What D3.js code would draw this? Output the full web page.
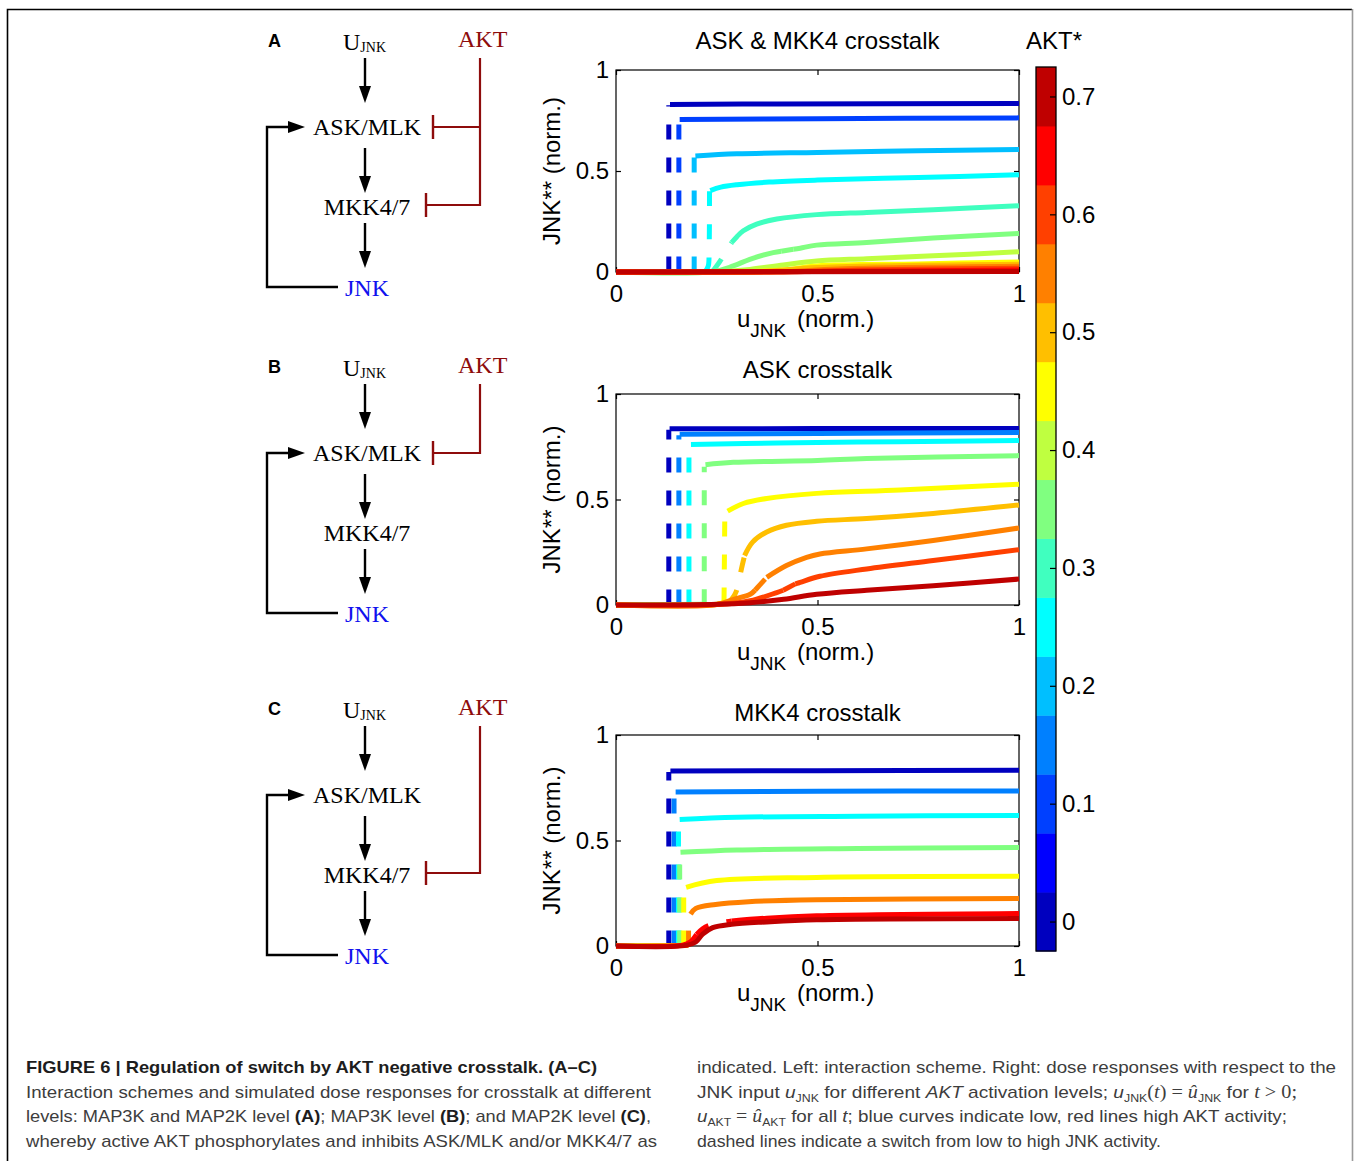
<!DOCTYPE html>
<html>
<head>
<meta charset="utf-8">
<script src="https://cdn.jsdelivr.net/npm/d3@7"></script>
<style>
body{margin:0;background:#fff;}
</style>
</head>
<body>
<div id="plot"></div>
<script>

// colorbar (jet, 15 levels) and its ticks
var aktColors = ['#0000BF','#0000FF','#0040FF','#0080FF','#00BFFF','#00FFFF','#40FFBF','#80FF80',
	'#BFFF40','#FFFF00','#FFBF00','#FF8000','#FF4000','#FF0000','#BF0000'];
var aktTicks = [0,0.1,0.2,0.3,0.4,0.5,0.6,0.7];
var aktDomain = [-0.025,0.725];
var axisTicks = [0,0.5,1];
var panelTitles = ['ASK & MKK4 crosstalk','ASK crosstalk','MKK4 crosstalk'];
var panelLetters = ['A','B','C'];

// dose responses: lo = solid low branch, sw = dashed switch, hi = solid high branch
var curvesA = [
	{akt:0, lo:[[0,0],[0.131,0.002]], sw:[[0.131,0.002],[0.131,0.826]], hi:[[0.134,0.829],[0.4,0.832],[1,0.834]]},
	{akt:0.1, lo:[[0,0],[0.156,0.002]], sw:[[0.156,0.002],[0.156,0.752]], hi:[[0.158,0.755],[0.5,0.759],[1,0.763]]},
	{akt:0.2, lo:[[0,0],[0.194,0.002]], sw:[[0.194,0.002],[0.194,0.57]], hi:[[0.197,0.574],[0.3,0.585],[0.5,0.592],[0.75,0.6],[1,0.607]]},
	{akt:0.25, lo:[[0,0],[0.222,0.003]], sw:[[0.222,0.003],[0.229,0.03],[0.231,0.1],[0.232,0.4]], hi:[[0.234,0.403],[0.26,0.42],[0.3,0.432],[0.38,0.445],[0.5,0.455],[0.75,0.468],[1,0.481]]},
	{akt:0.3, lo:[[0,0],[0.2,0.001],[0.24,0.004]], sw:[[0.24,0.004],[0.257,0.05],[0.272,0.1],[0.287,0.146]], hi:[[0.287,0.146],[0.3,0.175],[0.316,0.204],[0.349,0.237],[0.399,0.262],[0.498,0.284],[0.622,0.295],[0.787,0.308],[1,0.328]]},
	{akt:0.35, lo:[[0,0],[0.24,0.002],[0.291,0.03],[0.332,0.063],[0.39,0.096],[0.41,0.103]], sw:[[0.41,0.103],[0.44,0.113]], hi:[[0.44,0.113],[0.457,0.118],[0.498,0.133],[0.622,0.146],[0.787,0.168],[1,0.191]]},
	{akt:0.4, lo:[[0,0],[0.25,0.001],[0.332,0.013],[0.415,0.035],[0.498,0.055],[0.622,0.066],[0.787,0.08],[1,0.1]]},
	{akt:0.45, lo:[[0,0],[0.3,0.001],[0.415,0.01],[0.498,0.03],[0.75,0.04],[1,0.05]]},
	{akt:0.5, lo:[[0,0],[0.35,0.001],[0.5,0.022],[1,0.038]]},
	{akt:0.55, lo:[[0,0],[0.4,0.001],[0.55,0.015],[1,0.028]]},
	{akt:0.6, lo:[[0,0],[0.45,0.001],[0.6,0.01],[1,0.019]]},
	{akt:0.65, lo:[[0,0],[0.5,0.002],[1,0.01]]},
	{akt:0.7, lo:[[0,0],[1,0.002]]}
];

var curvesB = [
	{akt:0, lo:[[0,0],[0.131,0.002]], sw:[[0.131,0.002],[0.131,0.83]], hi:[[0.133,0.835],[0.5,0.836],[1,0.837]]},
	{akt:0.15, lo:[[0,0],[0.156,0.002]], sw:[[0.156,0.002],[0.156,0.805]], hi:[[0.158,0.809],[0.5,0.813],[1,0.817]]},
	{akt:0.25, lo:[[0,0],[0.181,0.002]], sw:[[0.181,0.002],[0.181,0.755]], hi:[[0.186,0.761],[0.4,0.768],[0.7,0.774],[1,0.78]]},
	{akt:0.35, lo:[[0,0],[0.219,0.003]], sw:[[0.219,0.003],[0.219,0.655]], hi:[[0.222,0.665],[0.291,0.676],[0.5,0.685],[0.622,0.694],[1,0.708]]},
	{akt:0.45, lo:[[0,0],[0.25,0.004],[0.268,0.012]], sw:[[0.268,0.012],[0.27,0.43]], hi:[[0.277,0.445],[0.316,0.481],[0.374,0.505],[0.498,0.529],[0.705,0.545],[1,0.572]]},
	{akt:0.5, lo:[[0,0],[0.25,0.003],[0.28,0.012]], sw:[[0.28,0.012],[0.295,0.05],[0.304,0.1],[0.31,0.16],[0.319,0.234]], hi:[[0.319,0.234],[0.339,0.298],[0.374,0.346],[0.423,0.378],[0.498,0.397],[0.622,0.41],[0.787,0.434],[1,0.474]]},
	{akt:0.55, lo:[[0,0],[0.25,0.002],[0.292,0.027],[0.333,0.051],[0.345,0.07]], sw:[[0.345,0.07],[0.374,0.131]], hi:[[0.374,0.131],[0.423,0.187],[0.473,0.226],[0.506,0.242],[0.622,0.266],[0.787,0.306],[1,0.365]]},
	{akt:0.6, lo:[[0,0],[0.25,0.002],[0.333,0.02],[0.399,0.059],[0.415,0.07]], sw:[[0.415,0.07],[0.445,0.1]], hi:[[0.445,0.1],[0.457,0.107],[0.506,0.136],[0.622,0.171],[0.787,0.211],[1,0.262]]},
	{akt:0.7, lo:[[0,0],[0.251,0.003],[0.333,0.011],[0.416,0.027],[0.498,0.051],[0.622,0.07],[0.787,0.091],[1,0.123]]}
];

var curvesC = [
	{akt:0, lo:[[0,0],[0.131,0.002]], sw:[[0.131,0.002],[0.131,0.825]], hi:[[0.135,0.829],[0.5,0.831],[1,0.833]]},
	{akt:0.15, lo:[[0,0],[0.144,0.002]], sw:[[0.144,0.002],[0.144,0.725]], hi:[[0.148,0.73],[0.5,0.733],[1,0.735]]},
	{akt:0.25, lo:[[0,0],[0.155,0.002]], sw:[[0.155,0.002],[0.155,0.595]], hi:[[0.158,0.6],[0.3,0.61],[0.6,0.615],[1,0.619]]},
	{akt:0.35, lo:[[0,0],[0.158,0.002]], sw:[[0.158,0.002],[0.158,0.44]], hi:[[0.16,0.444],[0.3,0.455],[0.6,0.462],[1,0.467]]},
	{akt:0.45, lo:[[0,0],[0.168,0.002]], sw:[[0.168,0.002],[0.168,0.27]], hi:[[0.174,0.278],[0.25,0.31],[0.498,0.325],[1,0.33]]},
	{akt:0.55, lo:[[0,0],[0.18,0.002]], sw:[[0.18,0.002],[0.18,0.145]], hi:[[0.185,0.151],[0.198,0.178],[0.247,0.197],[0.329,0.21],[0.498,0.219],[1,0.225]]},
	{akt:0.65, lo:[[0,0],[0.165,0.004],[0.185,0.02],[0.2,0.055]], sw:[[0.2,0.055],[0.215,0.082],[0.232,0.098],[0.287,0.119]], hi:[[0.287,0.119],[0.374,0.132],[0.498,0.143],[1,0.154]]},
	{akt:0.7, lo:[[0,0],[0.174,0.003],[0.198,0.019],[0.215,0.056],[0.24,0.087],[0.287,0.103],[0.374,0.114],[0.498,0.124],[1,0.13]]}
];

var captionLeft = [
	[['FIGURE 6 | Regulation of switch by AKT negative crosstalk. (A–C)','b']],
	[['Interaction schemes and simulated dose responses for crosstalk at different','']],
	[['levels: MAP3K and MAP2K level ',''],['(A)','b'],['; MAP3K level ',''],['(B)','b'],['; and MAP2K level ',''],['(C)','b'],[',','']],
	[['whereby active AKT phosphorylates and inhibits ASK/MLK and/or MKK4/7 as','']]
];
var captionRight = [
	[['indicated. Left: interaction scheme. Right: dose responses with respect to the','']],
	[['JNK input ',''],['u','i'],['JNK','sub'],[' for different ',''],['AKT','i'],[' activation levels; ',''],['u','i'],['JNK','sub'],['(','m'],['t','mi'],[') = ','m'],['û','mi'],['JNK','sub'],['  for ',''],['t','mi'],[' > 0;','m']],
	[['u','i'],['AKT','sub'],[' = ','m'],['û','mi'],['AKT','sub'],['  for all ',''],['t','i'],['; blue curves indicate low, red lines high AKT activity;','']],
	[['dashed lines indicate a switch from low to high JNK activity.','']]
];


var W = 1354, H = 1161;
var sans = 'Liberation Sans, Arial, Helvetica, sans-serif';
var serif = 'Liberation Serif, Times New Roman, serif';
var akRed = '#8e0c0c';

var svg = d3.select('#plot')
	.append('svg')
	.attr('width',W)
	.attr('height',H);

// page frame
svg.append('path')
	.attr('d','M7.5,'+H+' V9.5 H1352')
	.attr('fill','none')
	.attr('stroke','#000')
	.attr('stroke-width',1.6);
svg.append('line')
	.attr('x1',1352.5).attr('x2',1352.5).attr('y1',9).attr('y2',H)
	.attr('stroke','#9a9a9a')
	.attr('stroke-width',1.6);

var colorAkt = d3.scaleQuantize().domain(aktDomain).range(aktColors);

var panels = [
	{curves:curvesA, box:{l:616,r:1019,t:70,b:272}, titleY:49, dy:0, askInh:true, mkkInh:true},
	{curves:curvesB, box:{l:616,r:1019,t:394,b:605}, titleY:378, dy:326, askInh:true, mkkInh:false},
	{curves:curvesC, box:{l:616,r:1019,t:735,b:946}, titleY:721, dy:668, askInh:false, mkkInh:true}
];

panels.forEach(function(p,i){
	drawPlot(p, panelTitles[i]);
	drawScheme(p, panelLetters[i]);
});

drawColorbar();
drawCaption(captionLeft, 26, [571,625,625,631]);
drawCaption(captionRight, 697, [639,600,590,464]);


function drawPlot(p, title){
	var b = p.box;
	var x = d3.scaleLinear().domain([0,1]).range([b.l,b.r]);
	var y = d3.scaleLinear().domain([0,1]).range([b.b,b.t]);
	var g = svg.append('g').attr('class','panel');

	var line = d3.line()
		.x(function(d){return x(d[0])})
		.y(function(d){return y(d[1])})
		.curve(d3.curveCatmullRom.alpha(0.5));

	// box + inward ticks
	g.append('rect')
		.attr('x',b.l).attr('y',b.t)
		.attr('width',b.r-b.l).attr('height',b.b-b.t)
		.attr('fill','none').attr('stroke','#000').attr('stroke-width',1.2);

	var fmt = function(d){return String(d)};
	var axB = g.append('g').attr('transform','translate(0,'+b.b+')')
		.call(d3.axisBottom(x).tickValues(axisTicks).tickSize(-5).tickSizeOuter(0).tickPadding(13).tickFormat(fmt));
	var axT = g.append('g').attr('transform','translate(0,'+b.t+')')
		.call(d3.axisTop(x).tickValues(axisTicks).tickSize(-5).tickSizeOuter(0).tickFormat(''));
	var axL = g.append('g').attr('transform','translate('+b.l+',0)')
		.call(d3.axisLeft(y).tickValues(axisTicks).tickSize(-5).tickSizeOuter(0).tickPadding(7).tickFormat(fmt));
	var axR = g.append('g').attr('transform','translate('+b.r+',0)')
		.call(d3.axisRight(y).tickValues(axisTicks).tickSize(-5).tickSizeOuter(0).tickFormat(''));
	[axB,axT,axL,axR].forEach(function(a){
		a.select('.domain').remove();
		a.selectAll('line').attr('stroke','#000').attr('stroke-width',1.2);
		a.selectAll('text').attr('font-family',sans).attr('font-size',24).attr('fill','#000');
	});

	// curves, low AKT first so the red ones end on top
	p.curves.forEach(function(c){
		var col = colorAkt(c.akt);
		[['lo',null],['sw','15,18'],['hi',null]].forEach(function(part){
			if (!c[part[0]]) return;
			g.append('path')
				.datum(c[part[0]])
				.attr('d',line)
				.attr('fill','none')
				.attr('stroke',col)
				.attr('stroke-width',5)
				.attr('stroke-dasharray',part[1])
				.attr('stroke-linejoin','round');
		});
	});

	g.append('text')
		.attr('x',(b.l+b.r)/2).attr('y',p.titleY)
		.attr('text-anchor','middle')
		.attr('font-family',sans).attr('font-size',24)
		.text(title);

	var xl = g.append('text')
		.attr('x',737).attr('y',b.b+55)
		.attr('font-family',sans).attr('font-size',24);
	xl.append('tspan').text('u');
	xl.append('tspan').attr('font-size',19).attr('dy',10).text('JNK');
	xl.append('tspan').attr('dy',-10).attr('dx',4).text('\u00a0(norm.)');

	g.append('text')
		.attr('transform','translate(560,'+((b.t+b.b)/2)+') rotate(-90)')
		.attr('text-anchor','middle')
		.attr('font-family',sans).attr('font-size',24)
		.text('JNK** (norm.)');
}


function arrowDown(g, x, y0, y1){
	g.append('line').attr('x1',x).attr('x2',x).attr('y1',y0).attr('y2',y1-10)
		.attr('stroke','#000').attr('stroke-width',2.4);
	g.append('path').attr('d','M'+x+','+y1+' L'+(x-6)+','+(y1-17)+' L'+(x+6)+','+(y1-17)+' Z')
		.attr('fill','#000');
}

function inhibit(g, xv, yv, xt){
	g.append('line').attr('x1',xv).attr('x2',xt).attr('y1',yv).attr('y2',yv)
		.attr('stroke',akRed).attr('stroke-width',2.2);
	g.append('line').attr('x1',xt).attr('x2',xt).attr('y1',yv-12).attr('y2',yv+12)
		.attr('stroke',akRed).attr('stroke-width',2.4);
}

function drawScheme(p, letter){
	var dy = p.dy;
	var g = svg.append('g').attr('transform','translate(0,'+dy+')');

	g.append('text').attr('x',268).attr('y',47)
		.attr('font-family',sans).attr('font-weight','bold').attr('font-size',18)
		.text(letter);

	var u = g.append('text').attr('x',343).attr('y',50)
		.attr('font-family',serif).attr('font-size',24);
	u.append('tspan').text('U');
	u.append('tspan').attr('font-size',14).attr('dy',2).text('JNK');

	g.append('text').attr('x',458).attr('y',47)
		.attr('font-family',serif).attr('font-size',24).attr('fill',akRed)
		.text('AKT');

	g.append('text').attr('x',367).attr('y',135).attr('text-anchor','middle')
		.attr('font-family',serif).attr('font-size',24).text('ASK/MLK');
	g.append('text').attr('x',367).attr('y',215).attr('text-anchor','middle')
		.attr('font-family',serif).attr('font-size',24).text('MKK4/7');
	g.append('text').attr('x',367).attr('y',296).attr('text-anchor','middle')
		.attr('font-family',serif).attr('font-size',24).attr('fill','#1111ee').text('JNK');

	arrowDown(g,365,58,103);
	arrowDown(g,365,148,193);
	arrowDown(g,365,223,268);

	// JNK feedback to ASK/MLK
	g.append('path').attr('d','M338,287 H267 V127 H292')
		.attr('fill','none').attr('stroke','#000').attr('stroke-width',2.4);
	g.append('path').attr('d','M305,127 L288,121 L288,133 Z').attr('fill','#000');

	// AKT inhibition
	var yEnd = p.mkkInh ? 205 : 127;
	g.append('line').attr('x1',480).attr('x2',480).attr('y1',58).attr('y2',yEnd+1)
		.attr('stroke',akRed).attr('stroke-width',2.2);
	if (p.askInh) inhibit(g,480,127,433);
	if (p.mkkInh) inhibit(g,480,205,426);
}


function drawColorbar(){
	var cy = d3.scaleLinear().domain(aktDomain).range([951,67]);
	var g = svg.append('g').attr('class','colorbar');
	var step = (aktDomain[1]-aktDomain[0])/aktColors.length;

	g.selectAll('.band')
		.data(aktColors)
		.enter()
		.append('rect')
		.attr('class','band')
		.attr('x',1036).attr('width',20)
		.attr('y',function(d,i){ return cy(aktDomain[0]+(i+1)*step) })
		.attr('height',function(d,i){ return cy(aktDomain[0]+i*step)-cy(aktDomain[0]+(i+1)*step)+0.5 })
		.attr('fill',function(d){ return d });

	g.append('rect').attr('x',1036).attr('y',67).attr('width',20).attr('height',884)
		.attr('fill','none').attr('stroke','#000').attr('stroke-width',1.3);

	var ax = g.append('g').attr('transform','translate(1056,0)')
		.call(d3.axisRight(cy).tickValues(aktTicks).tickSize(-6).tickSizeOuter(0).tickPadding(6)
			.tickFormat(function(d){return String(d)}));
	ax.select('.domain').remove();
	ax.selectAll('line').attr('stroke','#000').attr('stroke-width',1.2);
	ax.selectAll('text').attr('font-family',sans).attr('font-size',24).attr('fill','#000');

	g.append('text').attr('x',1026).attr('y',49)
		.attr('font-family',sans).attr('font-size',24).text('AKT*');
}


function drawCaption(lines, x0, widths){
	var capY = [1073,1098,1122,1147];
	lines.forEach(function(segs,i){
		var t = svg.append('text')
			.attr('x',x0).attr('y',capY[i])
			.attr('font-family',sans).attr('font-size',17)
			.attr('fill','#3d3d3d');
		var shift = 0;
		segs.forEach(function(s){
			var ts = t.append('tspan').text(s[0]);
			var want = s[1]=='sub' ? 4 : 0;
			if (want != shift){ ts.attr('dy',want-shift); shift = want; }
			if (s[1]=='b') ts.attr('font-weight','bold').attr('fill','#1d1d1d');
			if (s[1]=='i') ts.attr('font-style','italic');
			if (s[1]=='sub') ts.attr('font-size',11);
			if (s[1]=='m') ts.attr('font-family',serif).attr('font-size',18);
			if (s[1]=='mi') ts.attr('font-family',serif).attr('font-style','italic').attr('font-size',18);
		});
		t.attr('textLength',widths[i]).attr('lengthAdjust','spacingAndGlyphs');
	});
}

</script>
</body>
</html>
